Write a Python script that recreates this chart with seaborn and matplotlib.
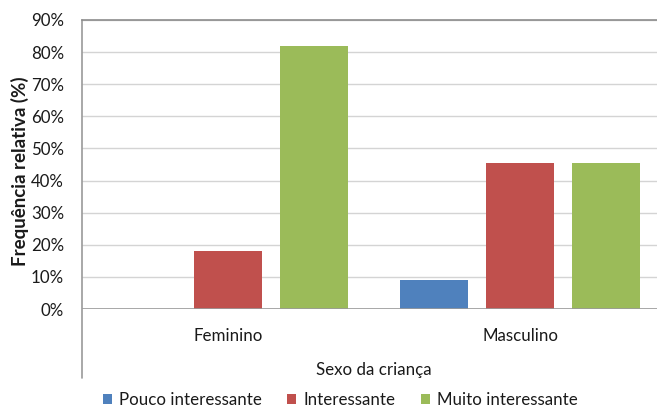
import matplotlib
matplotlib.use("Agg")
import matplotlib.pyplot as plt
import seaborn as sns
import pandas as pd
from matplotlib.patches import Patch
from matplotlib.lines import Line2D

sexo = ["Feminino", "Masculino"]
niveis = ["Pouco interessante", "Interessante", "Muito interessante"]
pouco = [0.0, 9.1]
interessante = [18.2, 45.5]
muito = [81.8, 45.5]
cores = ["#4F81BD", "#C0504D", "#9BBB59"]

df = pd.DataFrame({
    "sexo": sexo * 3,
    "nivel": [niveis[0]] * 2 + [niveis[1]] * 2 + [niveis[2]] * 2,
    "valor": pouco + interessante + muito,
})

sns.set_theme(style="white")
plt.rcParams["font.family"] = ["Lato", "DejaVu Sans"]

FS = 12.2
TXT = "#1a1a1a"
W, H = 657, 407
fig = plt.figure(figsize=(W / 100, H / 100), dpi=100)
left, right, top, bottom = 82, 666, 20, 309
ax = fig.add_axes([left / W, 1 - bottom / H, (right - left) / W, (bottom - top) / H])

sns.barplot(data=df, x="sexo", y="valor", hue="nivel", hue_order=niveis,
            palette=cores, width=0.884, gap=0.21, saturation=1,
            ax=ax, legend=False, linewidth=0, errorbar=None)

ax.set_xlim(-0.5, 1.5)
ax.set_ylim(0, 90)
ax.set_yticks(range(0, 91, 10))
ax.set_yticklabels([f"{v}%" for v in range(0, 91, 10)])
ax.yaxis.grid(True, color="#d4d4d4", linewidth=1)
ax.set_axisbelow(True)
for s in ["right", "bottom", "left"]:
    ax.spines[s].set_visible(False)
ax.spines["top"].set_color("#8c8c8c")
ax.spines["top"].set_linewidth(1.2)
ax.axhline(0, color="#9a9a9a", linewidth=1.2, zorder=3)
# left border of the plot frame, running down past the category labels
ax.add_line(Line2D([0, 0], [1, -(378 - bottom) / (bottom - top)], transform=ax.transAxes,
                   color="#9a9a9a", linewidth=1.2, clip_on=False))

ax.tick_params(axis="both", length=0, labelsize=FS, colors=TXT)
ax.tick_params(axis="y", pad=13)
ax.tick_params(axis="x", pad=14)
ax.set_xlabel("")
ax.set_ylabel("Frequência relativa (%)", fontsize=13.5, fontweight="bold", color=TXT)
ax.yaxis.set_label_coords(-(82 - 20) / (right - left), 1 - (171 - top) / (bottom - top))
ax.yaxis.label.set_va("center")

fig.text((left + right) / 2 / W, 1 - 370 / H, "Sexo da criança", ha="center", va="center",
         fontsize=FS, color=TXT)

handles = [Patch(facecolor=c, edgecolor="none") for c in cores]
fig.legend(handles, niveis, loc="center", bbox_to_anchor=(340 / W, 1 - 400 / H), ncol=3,
           frameon=False, fontsize=FS, handlelength=0.55, handleheight=0.55,
           handletextpad=0.4, columnspacing=1.5, labelcolor=TXT)

fig.savefig("out.png", dpi=100)
